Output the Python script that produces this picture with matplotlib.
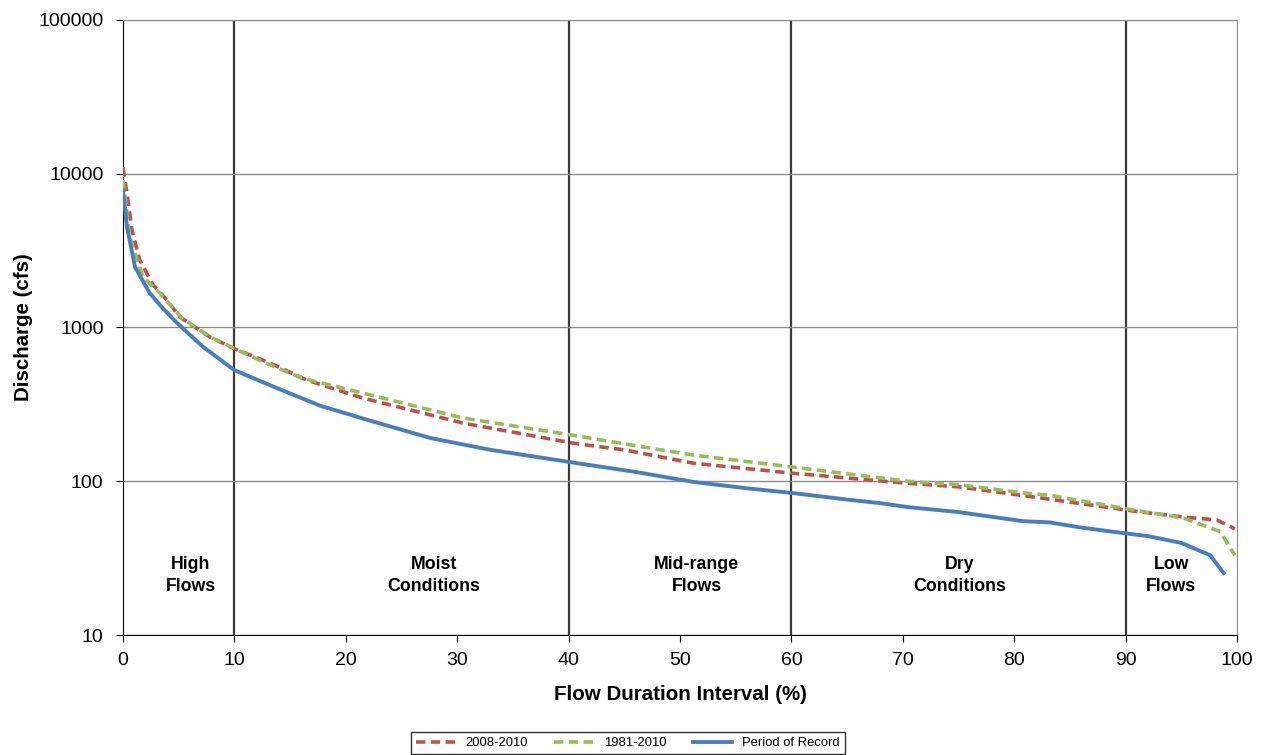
import matplotlib.pyplot as plt
import matplotlib.ticker as mticker

plt.rcParams['font.family'] = ['Liberation Sans', 'DejaVu Sans']

# flow duration curves
pct_record = [0, 0.36, 1.08, 2.4, 3.5, 4.85, 7.2, 10, 13.8, 17.7, 22, 27.6, 33, 40.8,
              46, 51.2, 56, 60, 65, 68, 70.4, 75, 80.8, 83.2, 86, 89.8, 92, 95, 97.6, 98.8]
q_record = [7800, 4500, 2470, 1675, 1350, 1070, 747, 528, 404, 310, 250, 191, 160, 131,
            115, 99, 90, 84, 76, 72, 68, 63, 55, 54, 50, 46, 44, 39.7, 33, 25.3]

pct_0810 = [0, 0.45, 0.8, 1.5, 2.7, 3.8, 5.1, 7.8, 10, 13.2, 16.5, 21.5, 30.5, 40.8, 45,
            51.2, 60, 70.4, 75, 82.3, 90.7, 95.2, 98.2, 99.8]
q_0810 = [11000, 6700, 4300, 2750, 1890, 1550, 1170, 867, 728, 587, 455, 348, 239, 175, 160,
          131, 113, 97, 92, 78, 64, 58.5, 56, 49]

pct_8110 = [0, 0.6, 1.8, 3.3, 5.3, 7.8, 10, 12.6, 16, 21.5, 30.5, 40.8, 45, 51.2, 60, 70.4,
            75, 80.8, 83.2, 90.7, 95.2, 98.5, 99.8]
q_8110 = [9100, 3880, 2130, 1675, 1150, 870, 730, 597, 470, 375, 258, 197, 175, 148, 124, 100,
          95, 84, 81, 65, 57.6, 47, 33]

zone_bounds = [10, 40, 60, 90]
zone_labels = ["High\nFlows", "Moist\nConditions", "Mid-range\nFlows", "Dry\nConditions", "Low\nFlows"]
zone_centers = [6.1, 27.9, 51.5, 75.1, 94.1]

fig = plt.figure(figsize=(12.62, 7.55), dpi=100)
ax = fig.add_axes([123 / 1262, 1 - 635 / 755, (1237 - 123) / 1262, (635 - 20) / 755])

ax.set_yscale('log')
ax.set_ylim(10, 100000)
ax.set_xlim(0, 100)
ax.yaxis.set_major_locator(mticker.LogLocator(base=10))
ax.yaxis.set_minor_locator(mticker.NullLocator())
ax.yaxis.set_major_formatter(mticker.FuncFormatter(lambda v, p: f"{v:.0f}"))
ax.xaxis.set_major_locator(mticker.MultipleLocator(10))

ax.grid(axis='y', color='#8c8c8c', lw=1.0, zorder=0)
for b in zone_bounds:
    ax.axvline(b, color='#3a3a3a', lw=1.6, zorder=1)

ax.plot(pct_0810, q_0810, color='#C0504D', lw=2.6, ls=(0, (2.6, 1.5)), label='2008-2010', zorder=3)
ax.plot(pct_8110, q_8110, color='#9BBB59', lw=2.6, ls=(0, (2.6, 1.5)), label='1981-2010', zorder=3)
ax.plot(pct_record, q_record, color='#4A7EBB', lw=2.8, label='Period of Record', zorder=4)

for xc, lab in zip(zone_centers, zone_labels):
    ax.text(xc, 24.5, lab, ha='center', va='center', fontsize=12.8, fontweight='bold',
            linespacing=1.4)

for s in ['left', 'bottom']:
    ax.spines[s].set_color('black')
for s in ['top', 'right']:
    ax.spines[s].set_color('#8c8c8c')

ax.tick_params(direction='out', length=5, labelsize=14, color='black')
ax.tick_params(axis='x', pad=7)
ax.tick_params(axis='y', pad=9)
ax.set_xlabel('Flow Duration Interval (%)', fontsize=14.8, fontweight='bold', labelpad=12)
ax.set_ylabel('Discharge (cfs)', fontsize=14.8, fontweight='bold', labelpad=4)

fig.legend(loc='center', bbox_to_anchor=(628 / 1262, 1 - 743 / 755), ncol=3, fontsize=9.4,
           frameon=True, fancybox=False, edgecolor='black', handlelength=3.0,
           columnspacing=2.0, borderpad=0.4)

fig.savefig('out.png', dpi=100)
